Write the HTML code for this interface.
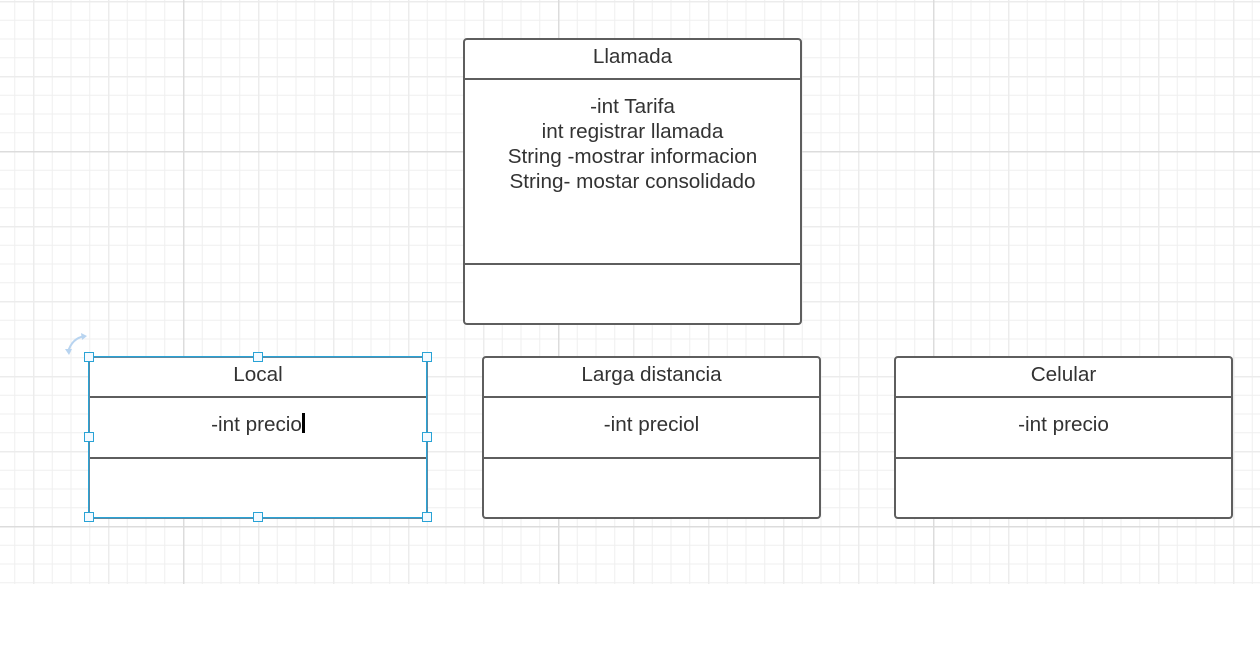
<!DOCTYPE html>
<html><head><style>
body{margin:0;width:1260px;height:648px;background:#fff;position:relative;overflow:hidden;font-family:"Liberation Sans",sans-serif;}
.box{position:absolute;border:2.5px solid #5e5e5e;border-radius:4px;box-sizing:border-box;background:#fff;}
.h{position:absolute;left:0;right:0;text-align:center;font-size:20.7px;color:#333;}
.ln{position:absolute;left:0;right:0;height:0;border-top:2.5px solid #5e5e5e;}
.hd{position:absolute;width:10px;height:10px;border:1px solid #29a3d6;background:#f4faff;box-sizing:border-box;}
</style></head><body>
<svg width="1260" height="584" style="position:absolute;left:0;top:0">
<defs>
<pattern id="m" x="-4.5" y="1" width="18.75" height="18.75" patternUnits="userSpaceOnUse">
<path d="M0.5 0V18.75M0 0.5H18.75" stroke="#efefef" stroke-width="1" fill="none"/></pattern>
<pattern id="d" x="33" y="1" width="75" height="75" patternUnits="userSpaceOnUse">
<path d="M0 0V75M0 0H75" stroke="#ececec" stroke-width="3" fill="none"/></pattern>
<pattern id="M" x="183" y="151" width="375" height="375" patternUnits="userSpaceOnUse">
<path d="M0 0V375M0 0H375" stroke="#dcdcdc" stroke-width="3" fill="none"/></pattern>
</defs>
<rect width="1260" height="584" fill="url(#m)"/>
<rect width="1260" height="584" fill="url(#d)"/>
<rect width="1260" height="584" fill="url(#M)"/>
<path d="M68 352 Q72 338 85 336" stroke="#b8d4f0" stroke-width="2" fill="none"/>
<path d="M81 333 L87 336 L82 340Z M65 349 L69 355 L72 349Z" fill="#b8d4f0"/>
</svg>

<div class="box" style="left:463px;top:38px;width:339px;height:287px">
<div class="h" style="top:5px">Llamada</div>
<div class="ln" style="top:38px"></div>
<div class="h" style="top:54px;line-height:25px">-int Tarifa<br>int registrar llamada<br>String -mostrar informacion<br>String- mostar consolidado</div>
<div class="ln" style="top:223px"></div>
</div>

<div class="box" style="left:88px;top:356px;width:340px;height:163px;border-color:#5d8aa3">
<div class="h" style="top:5px">Local</div>
<div class="ln" style="top:38px"></div>
<div class="h" style="top:55px">-int precio<span style="display:inline-block;width:3px;height:20px;background:#000;vertical-align:-2px"></span></div>
<div class="ln" style="top:99px"></div>
</div>
<div style="position:absolute;left:88px;top:356px;width:339px;height:162px;border:1.5px solid #29a3d6;box-sizing:border-box"></div>
<div class="hd" style="left:84px;top:352px"></div>
<div class="hd" style="left:253px;top:352px"></div>
<div class="hd" style="left:422px;top:352px"></div>
<div class="hd" style="left:84px;top:432px"></div>
<div class="hd" style="left:422px;top:432px"></div>
<div class="hd" style="left:84px;top:512px"></div>
<div class="hd" style="left:253px;top:512px"></div>
<div class="hd" style="left:422px;top:512px"></div>

<div class="box" style="left:482px;top:356px;width:339px;height:163px">
<div class="h" style="top:5px">Larga distancia</div>
<div class="ln" style="top:38px"></div>
<div class="h" style="top:55px">-int preciol</div>
<div class="ln" style="top:99px"></div>
</div>

<div class="box" style="left:894px;top:356px;width:339px;height:163px">
<div class="h" style="top:5px">Celular</div>
<div class="ln" style="top:38px"></div>
<div class="h" style="top:55px">-int precio</div>
<div class="ln" style="top:99px"></div>
</div>
</body></html>
